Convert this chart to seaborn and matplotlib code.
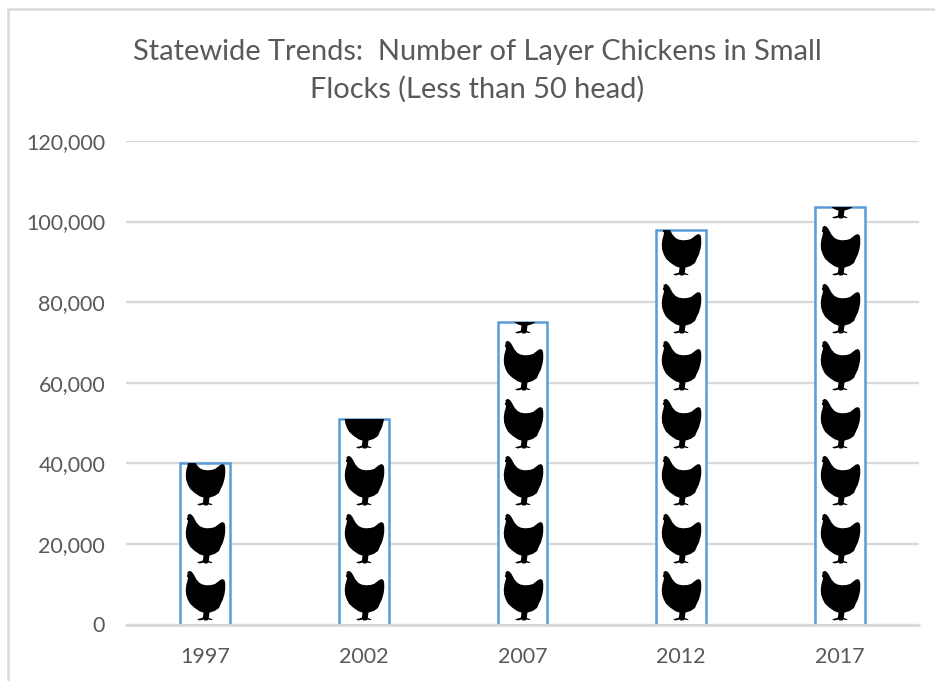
import numpy as np
import pandas as pd
import matplotlib
matplotlib.use("Agg")
import matplotlib.pyplot as plt
from matplotlib.path import Path
from matplotlib.patches import Rectangle
from matplotlib.ticker import FuncFormatter
import seaborn as sns

years = ["1997", "2002", "2007", "2012", "2017"]
layer_chickens = [40000, 51000, 75000, 98000, 103500]
y_ticks = [0, 20000, 40000, 60000, 80000, 100000, 120000]
title = "Statewide Trends:  Number of Layer Chickens in Small\nFlocks (Less than 50 head)"
chickens_value = 14250  # value represented by one stacked chicken picture

# Chicken silhouette (icon shape, unit-free, y up, centred on the body)
chicken_outline = np.array([
    (-48, 75), (-42, 72), (-37, 66), (-32, 57), (-27, 48), (-18, 38), (-8, 33), (4, 31),
    (18, 32), (29, 35), (38, 42), (46, 48), (53, 50), (58, 46), (60, 36), (60, 20), (58, 6),
    (53, -12), (47, -24), (41, -38), (28, -47), (12, -52), (11, -60), (10, -68), (20, -72), (21, -75),
    (9, -73), (5, -76), (-3, -76), (-6, -73), (-18, -76), (-26, -72), (-13, -69), (-8, -67),
    (-7, -60), (-6, -52), (-18, -48), (-34, -37), (-47, -25), (-54, -12), (-59, 3), (-60, 18),
    (-58, 34), (-55, 44), (-53, 54), (-57, 59), (-54, 66), (-55, 71), (-48, 75),
], dtype=float)
chicken_path = Path(chicken_outline, closed=True)

sns.set_theme(style="white")
plt.rcParams["font.family"] = ["Lato", "DejaVu Sans"]
GREY_TEXT = "#595959"
GRID = "#D9D9D9"
BLUE = "#5B9BD5"

fig = plt.figure(figsize=(9.35, 6.81), dpi=100, facecolor="white")
W, H = 935, 681
ax = fig.add_axes([126 / W, 1 - 624.5 / H, (919 - 126) / W, (624.5 - 141) / H])
ax.set_facecolor("white")

df = pd.DataFrame({"year": years, "chickens": layer_chickens})
sns.barplot(data=df, x="year", y="chickens", ax=ax, width=0.315, color="white",
            saturation=1, edgecolor=BLUE, linewidth=1.8, zorder=3)
ax.set_ylim(0, 120000)
ax.set_yticks(y_ticks)
ax.yaxis.set_major_formatter(FuncFormatter(lambda v, _: f"{int(v):,}"))
ax.set_xlabel("")
ax.set_ylabel("")
ax.grid(axis="y", color=GRID, linewidth=1.7, zorder=0)
ax.set_axisbelow(True)
for spine in ax.spines.values():
    spine.set_visible(False)
ax.axhline(0, color=GRID, linewidth=2.0, zorder=6, clip_on=False)
ax.tick_params(axis="both", length=0, labelsize=15.5, labelcolor=GREY_TEXT)
ax.tick_params(axis="y", pad=15)
ax.tick_params(axis="x", pad=16)

# Stack the pictures inside each bar, cropped by the bar itself
for patch, value in zip(ax.patches, layer_chickens):
    n = int(np.ceil(value / chickens_value))
    ys = (np.arange(n) + 0.515) * chickens_value
    xs = np.full(n, patch.get_x() + patch.get_width() / 2)
    coll = ax.scatter(xs, ys, marker=chicken_path, s=1296, color="black",
                      linewidths=0, zorder=4)
    coll.set_clip_path(patch)
ax.set_xlim(-0.5, len(years) - 0.5)

fig.text(477 / W, 1 - 71 / H, title, ha="center", va="center", fontsize=20.9,
         color=GREY_TEXT, linespacing=1.53)

# Chart frame, cut by the right and bottom edges of the picture
fig.add_artist(Rectangle((7.5 / W, -0.05), 1.1, 1.05 - 9.5 / H, transform=fig.transFigure,
                         fill=False, edgecolor=GRID, linewidth=1.8))

fig.savefig("out.png", dpi=100, facecolor="white")
